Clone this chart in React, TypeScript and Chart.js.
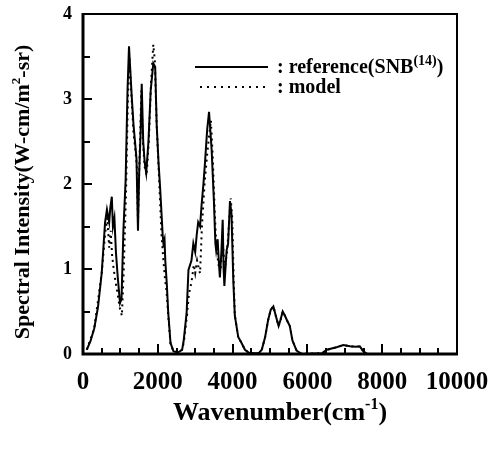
import React, { useEffect, useRef } from "react";
import { Chart, registerables } from "chart.js";

Chart.register(...registerables);

// Reference (SNB) spectrum: wavenumber (cm^-1) and intensity
const refX = [
  100, 200, 300, 400, 500, 590, 640, 700, 730, 770,
  800, 840, 880, 930, 990, 1030, 1080, 1140, 1190, 1230,
  1300, 1350, 1390, 1430, 1470, 1500, 1540, 1570, 1610, 1650,
  1690, 1750, 1810, 1880, 1930, 1970, 2020, 2060, 2100, 2130,
  2150, 2180, 2200, 2240, 2280, 2340, 2420, 2550, 2650, 2690,
  2770, 2820, 2900, 2950, 3000, 3040, 3080, 3130, 3170, 3220,
  3260, 3320, 3370, 3440, 3500, 3540, 3560, 3600, 3630, 3660,
  3700, 3735, 3760, 3780, 3840, 3880, 3930, 3970, 4020, 4060,
  4150, 4240, 4330, 4450, 4700, 4780, 4870, 4950, 5020, 5090,
  5160, 5230, 5280, 5340, 5400, 5450, 5530, 5600, 5710, 5850,
  6400, 6520, 6780, 6960, 7140, 7300, 7400, 7500, 7600,
];
const refY = [
  0.05, 0.15, 0.3, 0.55, 0.95, 1.55, 1.7, 1.55, 1.72, 1.85,
  1.5, 1.6, 1.2, 0.9, 0.6, 0.65, 1.45, 2.05, 3.1, 3.62,
  3.05, 2.7, 2.5, 2.3, 1.45, 2.1, 2.6, 3.18, 2.5, 2.25,
  2.13, 2.5, 3.1, 3.42, 3.38, 2.7, 2.25, 1.97, 1.65, 1.4,
  1.3, 1.35, 1.1, 0.83, 0.48, 0.13, 0.03, 0.02, 0.05, 0.15,
  0.48, 0.99, 1.1, 1.3, 1.2, 1.4, 1.55, 1.5, 1.75, 2.0,
  2.24, 2.64, 2.85, 2.4, 1.8, 1.3, 1.22, 1.35, 1.1, 0.9,
  1.2, 1.58, 1.0, 0.8, 1.22, 1.3, 1.8, 1.65, 0.85, 0.45,
  0.2, 0.13, 0.05, 0.01, 0.01, 0.05, 0.2, 0.4, 0.52, 0.56,
  0.44, 0.33, 0.4, 0.5, 0.45, 0.4, 0.33, 0.16, 0.04, 0.0,
  0.01, 0.05, 0.08, 0.105, 0.09, 0.085, 0.09, 0.03, 0.0,
];

// Model spectrum
const modelX = [
  100, 300, 500, 600, 650, 700, 740, 780, 820, 870,
  930, 980, 1040, 1090, 1150, 1200, 1240, 1300, 1350, 1400,
  1440, 1470, 1500, 1560, 1600, 1650, 1700, 1760, 1820, 1880,
  1920, 1970, 2020, 2060, 2100, 2150, 2190, 2240, 2280, 2340,
  2420, 2550, 2650, 2700, 2780, 2830, 2870, 2920, 2960, 3000,
  3050, 3100, 3130, 3180, 3250, 3320, 3380, 3420, 3470, 3520,
  3560, 3620, 3680, 3740, 3790, 3850, 3900, 3950, 3990, 4030,
  4060, 4150, 4240, 4330, 4450, 4700, 4780, 4870, 4950, 5020,
  5090, 5160, 5230, 5280, 5340, 5400, 5450, 5530, 5600, 5710,
  5850, 6400, 6520, 6780, 6960, 7140, 7300, 7400, 7500, 7600,
];
const modelY = [
  0.05, 0.3, 0.95, 1.45, 1.6, 1.25, 1.45, 1.15, 1.0, 0.85,
  0.7, 0.55, 0.45, 1.0, 1.9, 3.0, 3.5, 3.0, 2.6, 2.4,
  2.2, 1.55, 2.1, 3.1, 2.5, 2.2, 2.1, 2.5, 3.2, 3.64,
  3.45, 2.7, 2.2, 1.8, 1.4, 1.1, 0.9, 0.7, 0.45, 0.12,
  0.03, 0.02, 0.05, 0.15, 0.45, 0.7, 0.78, 0.9, 1.05, 0.95,
  1.1, 1.0, 0.95, 1.5, 2.0, 2.35, 2.6, 2.75, 2.3, 1.7,
  1.3, 1.05, 1.0, 1.3, 1.0, 1.2, 1.5, 1.83, 1.6, 0.85,
  0.45, 0.2, 0.13, 0.05, 0.01, 0.01, 0.05, 0.2, 0.4, 0.52,
  0.56, 0.44, 0.33, 0.4, 0.5, 0.45, 0.4, 0.33, 0.16, 0.04,
  0.0, 0.01, 0.05, 0.08, 0.105, 0.09, 0.085, 0.09, 0.03, 0.0,
];

const seriesNames = ["reference(SNB", "model"];
const xTitle = "Wavenumber(cm";
const yTitle = "Spectral Intensity(W-cm/m";

const SERIF = "'Liberation Serif', 'DejaVu Serif', serif";

type Part = { t: string; sup?: boolean };

function drawRich(
  ctx: CanvasRenderingContext2D,
  parts: Part[],
  x: number,
  y: number,
  size: number,
  align: "left" | "center",
  supRatio = 0.6
) {
  const supSize = Math.round(size * supRatio);
  const fontFor = (p: Part) => `bold ${p.sup ? supSize : size}px ${SERIF}`;
  let total = 0;
  for (const p of parts) {
    ctx.font = fontFor(p);
    total += ctx.measureText(p.t).width;
  }
  let cx = align === "center" ? x - total / 2 : x;
  ctx.textAlign = "left";
  ctx.textBaseline = "alphabetic";
  for (const p of parts) {
    ctx.font = fontFor(p);
    ctx.fillText(p.t, cx, p.sup ? y - size * 0.42 : y);
    cx += ctx.measureText(p.t).width;
  }
}

const decor = {
  id: "decor",
  afterDraw(chart: any) {
    const { ctx, chartArea } = chart;
    const { left, right, top, bottom } = chartArea;
    const xs = chart.scales.x;
    const ys = chart.scales.y;
    ctx.save();
    ctx.strokeStyle = "#000";
    ctx.fillStyle = "#000";
    ctx.setLineDash([]);
    // frame
    ctx.lineWidth = 2;
    ctx.strokeRect(left, top, right - left, bottom - top);
    ctx.lineWidth = 3;
    ctx.beginPath();
    ctx.moveTo(left, top - 1);
    ctx.lineTo(left, bottom);
    ctx.lineTo(right + 1, bottom);
    ctx.stroke();
    // inward ticks
    ctx.lineWidth = 2;
    ctx.beginPath();
    for (let v = 0.5; v < 4; v += 0.5) {
      const py = Math.round(ys.getPixelForValue(v));
      const len = Number.isInteger(v) ? 9 : 7;
      ctx.moveTo(left, py);
      ctx.lineTo(left + len, py);
    }
    for (let w = 500; w < 10000; w += 500) {
      const px = Math.round(xs.getPixelForValue(w));
      const len = w % 2000 === 0 ? 10 : 6;
      ctx.moveTo(px, bottom);
      ctx.lineTo(px, bottom - len);
    }
    ctx.stroke();
    // legend
    ctx.lineWidth = 2;
    ctx.beginPath();
    ctx.moveTo(195, 67);
    ctx.lineTo(268, 67);
    ctx.stroke();
    ctx.setLineDash([2, 5]);
    ctx.beginPath();
    ctx.moveTo(200, 87);
    ctx.lineTo(266, 87);
    ctx.stroke();
    ctx.setLineDash([]);
    drawRich(ctx, [{ t: ": " + seriesNames[0] }, { t: "(14)", sup: true }, { t: ")" }], 277, 73, 20, "left", 0.68);
    drawRich(ctx, [{ t: ": " + seriesNames[1] }], 277, 93, 20, "left");
    // x title
    drawRich(ctx, [{ t: xTitle }, { t: "-1", sup: true }, { t: ")" }], (left + right) / 2 + 10, 420, 26, "center");
    // y title
    ctx.save();
    ctx.translate(29, (top + bottom) / 2 + 8);
    ctx.rotate(-Math.PI / 2);
    drawRich(ctx, [{ t: yTitle }, { t: "2", sup: true }, { t: "-sr)" }], 0, 0, 22, "center");
    ctx.restore();
    ctx.restore();
  },
};

export default function App() {
  const ref = useRef<HTMLCanvasElement | null>(null);
  useEffect(() => {
    document.body.style.margin = "0";
    const canvas = ref.current!;
    const chart = new Chart(canvas, {
      type: "line",
      data: {
        datasets: [
          {
            label: seriesNames[1],
            data: modelX.map((x, i) => ({ x, y: modelY[i] })),
            borderColor: "#000",
            borderWidth: 2,
            borderDash: [2, 4],
            pointRadius: 0,
            tension: 0,
            fill: false,
          },
          {
            label: seriesNames[0],
            data: refX.map((x, i) => ({ x, y: refY[i] })),
            borderColor: "#000",
            borderWidth: 2,
            pointRadius: 0,
            tension: 0,
            fill: false,
          },
        ],
      },
      options: {
        animation: false,
        responsive: false,
        devicePixelRatio: 1,
        layout: { padding: { top: 14, right: 34, left: 0, bottom: 0 } },
        plugins: { legend: { display: false }, tooltip: { enabled: false } },
        scales: {
          x: {
            type: "linear",
            min: 0,
            max: 10000,
            grid: { display: false, drawTicks: false },
            border: { display: false },
            ticks: {
              stepSize: 2000,
              autoSkip: false,
              maxRotation: 0,
              padding: 14,
              color: "#000",
              font: { family: SERIF, weight: "bold", size: 25 },
              callback: (v: any) => String(v),
            },
            afterFit: (s: any) => {
              s.height = 98;
              s.paddingLeft = 0;
              s.paddingRight = 0;
            },
          },
          y: {
            type: "linear",
            min: 0,
            max: 4,
            grid: { display: false, drawTicks: false },
            border: { display: false },
            ticks: {
              stepSize: 1,
              padding: 11,
              color: "#000",
              font: { family: SERIF, weight: "bold", size: 18 },
              callback: (v: any) => String(v),
            },
            afterFit: (s: any) => {
              s.width = 83;
              s.paddingTop = 0;
              s.paddingBottom = 0;
            },
          },
        },
      },
      plugins: [decor],
    });
    return () => chart.destroy();
  }, []);
  return (
    <div style={{ width: 491, height: 452, background: "#fff" }}>
      <canvas ref={ref} width={491} height={452} />
    </div>
  );
}
